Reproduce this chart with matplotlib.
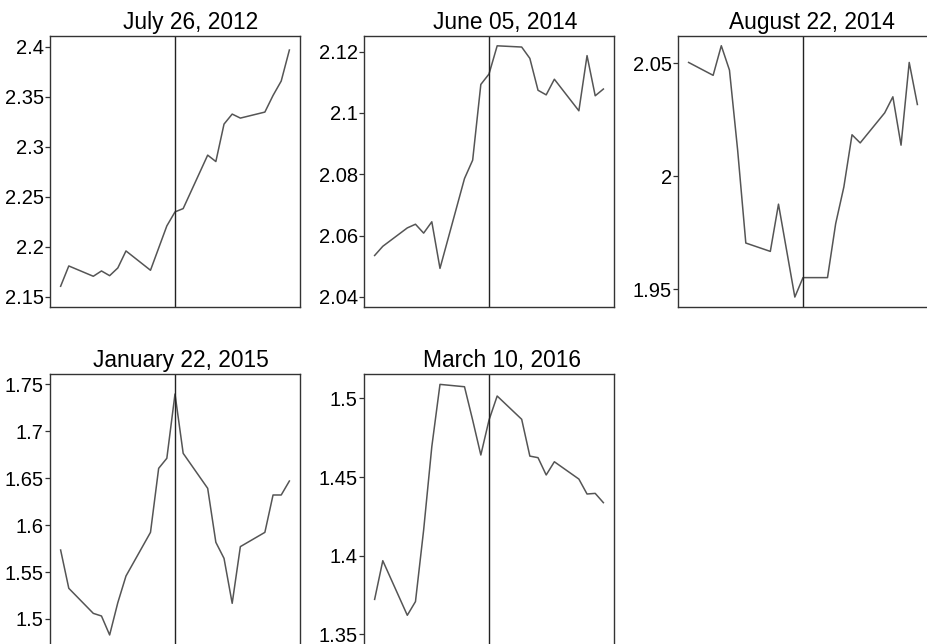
import numpy as np
import matplotlib.pyplot as plt
from matplotlib.ticker import FuncFormatter

plt.rcParams['font.family'] = ['Liberation Sans', 'DejaVu Sans']

# calendar days relative to the event date (weekends missing)
titles = ['July 26, 2012', 'June 05, 2014', 'August 22, 2014', 'January 22, 2015', 'March 10, 2016']

days_jul12 = [-14, -13, -10, -9, -8, -7, -6, -3, -1, 0, 1, 4, 5, 6, 7, 8, 11, 12, 13, 14]
vals_jul12 = [2.1607, 2.181, 2.1707, 2.176, 2.1713, 2.179, 2.196, 2.1767, 2.221, 2.235,
              2.2383, 2.2917, 2.2853, 2.3227, 2.3327, 2.3287, 2.3347, 2.3513, 2.3657, 2.3967]

days_jun14 = [-14, -13, -10, -9, -8, -7, -6, -3, -2, -1, 0, 1, 4, 5, 6, 7, 8, 11, 12, 13, 14]
vals_jun14 = [2.0535, 2.0565, 2.0625, 2.0637, 2.0608, 2.0645, 2.0493, 2.0786, 2.0846, 2.1093, 2.1127,
              2.1219, 2.1215, 2.1178, 2.1074, 2.1059, 2.1110, 2.1007, 2.1187, 2.1056, 2.1078]

days_aug14 = [-14, -11, -10, -9, -8, -7, -4, -3, -1, 0, 3, 4, 5, 6, 7, 10, 11, 12, 13, 14]
vals_aug14 = [2.0504, 2.0447, 2.0578, 2.0470, 2.0116, 1.9705, 1.9668, 1.9877, 1.9466, 1.9552,
              1.9552, 1.9791, 1.9953, 2.0184, 2.0148, 2.0281, 2.0352, 2.0138, 2.0504, 2.0318]

days_jan15 = [-14, -13, -10, -9, -8, -7, -6, -3, -2, -1, 0, 1, 4, 5, 6, 7, 8, 11, 12, 13, 14]
vals_jan15 = [1.5735, 1.5327, 1.5060, 1.5032, 1.4830, 1.5174, 1.5458, 1.5923, 1.6605, 1.6712, 1.7397,
              1.6765, 1.6392, 1.5817, 1.5646, 1.5167, 1.5771, 1.5923, 1.6321, 1.6321, 1.6470]

days_mar16 = [-14, -13, -10, -9, -8, -7, -6, -3, -2, -1, 0, 1, 4, 5, 6, 7, 8, 11, 12, 13, 14]
vals_mar16 = [1.3722, 1.3968, 1.3621, 1.3708, 1.4163, 1.4693, 1.5089, 1.5074, 1.4862, 1.4640, 1.4862,
              1.5015, 1.4867, 1.4633, 1.4623, 1.4513, 1.4597, 1.4487, 1.4392, 1.4396, 1.4337]

yticks = [
    [2.15, 2.2, 2.25, 2.3, 2.35, 2.4],
    [2.04, 2.06, 2.08, 2.1, 2.12],
    [1.95, 2.0, 2.05],
    [1.5, 1.55, 1.6, 1.65, 1.7, 1.75],
    [1.35, 1.4, 1.45, 1.5],
]
ylims = [(2.14, 2.4107), (2.0367, 2.1251), (1.9422, 2.0621), (1.4723, 1.761), (1.3432, 1.5155)]


def main() -> None:
    W, H = 927, 644
    fig = plt.figure(figsize=(W / 100, H / 100), dpi=100)

    series = [(days_jul12, vals_jul12), (days_jun14, vals_jun14), (days_aug14, vals_aug14),
              (days_jan15, vals_jan15), (days_mar16, vals_mar16)]
    # axes boxes in pixels: left, top, width, height
    lefts = [50, 364, 678]
    tops = [36, 374]
    aw, ah = 250, 271
    # titles sit a little right of the panel centre in the original
    title_shift = [16, 16, 9, 6, 13]

    for i, (x, y) in enumerate(series):
        left = lefts[i % 3]
        top = tops[i // 3]
        ax = fig.add_axes([left / W, 1 - (top + ah) / H, aw / W, ah / H])
        ax.plot(x, y, color='#555555', lw=1.1)
        ax.axvline(0, color='#222222', lw=1.0)
        ax.set_xlim(-15.3, 15.3)
        ax.set_ylim(*ylims[i])
        ax.set_xticks([])
        ax.set_yticks(yticks[i])
        ax.yaxis.set_major_formatter(FuncFormatter(lambda v, p: f'{round(v, 4):g}'))
        ax.tick_params(axis='y', labelsize=14.5, length=3.5, width=0.9, pad=1, color='#333333')
        for s in ax.spines.values():
            s.set_color('#333333')
            s.set_linewidth(1.0)
        ax.set_title(titles[i], fontsize=16.4, pad=5, x=0.5 + title_shift[i] / aw)

    fig.savefig('out.png', dpi=100)


if __name__ == '__main__':
    main()
